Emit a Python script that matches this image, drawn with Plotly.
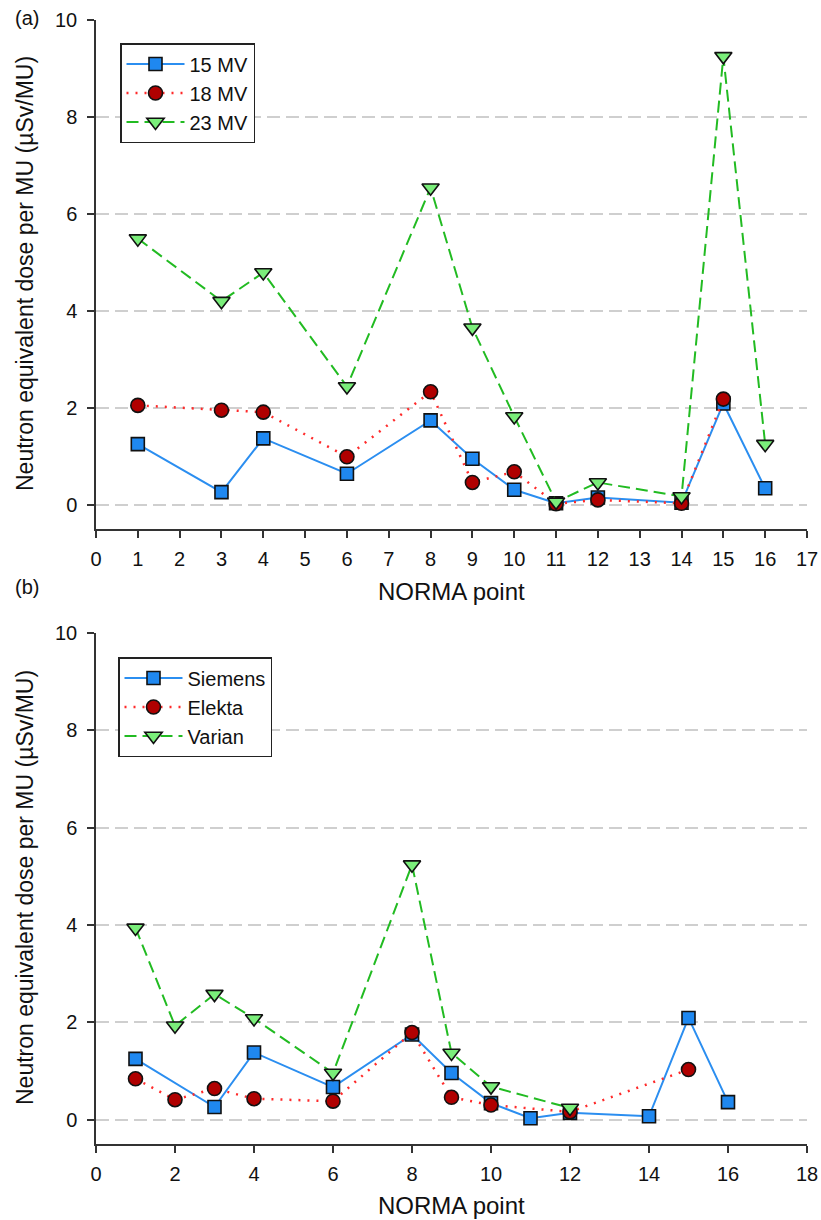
import plotly.graph_objects as go

# ---- data: panel (a), by beam energy ----
a_x_15 = [1, 3, 4, 6, 8, 9, 10, 11, 12, 14, 15, 16]
a_y_15 = [1.25, 0.26, 1.37, 0.64, 1.74, 0.95, 0.31, 0.03, 0.15, 0.04, 2.09, 0.34]

a_x_18 = [1, 3, 4, 6, 8, 9, 10, 11, 12, 14, 15]
a_y_18 = [2.05, 1.95, 1.91, 0.99, 2.33, 0.46, 0.68, 0.02, 0.10, 0.03, 2.18]

a_x_23 = [1, 3, 4, 6, 8, 9, 10, 11, 12, 14, 15, 16]
a_y_23 = [5.49, 4.20, 4.79, 2.44, 6.54, 3.65, 1.82, 0.06, 0.46, 0.17, 9.25, 1.25]

# ---- data: panel (b), by manufacturer ----
b_x_siemens = [1, 3, 4, 6, 8, 9, 10, 11, 12, 14, 15, 16]
b_y_siemens = [1.25, 0.26, 1.38, 0.67, 1.75, 0.96, 0.34, 0.03, 0.14, 0.07, 2.09, 0.36]

b_x_elekta = [1, 2, 3, 4, 6, 8, 9, 10, 12, 15]
b_y_elekta = [0.84, 0.41, 0.64, 0.43, 0.38, 1.79, 0.46, 0.30, 0.16, 1.03]

b_x_varian = [1, 2, 3, 4, 6, 8, 9, 10, 12]
b_y_varian = [3.94, 1.93, 2.58, 2.08, 0.96, 5.24, 1.37, 0.68, 0.24]

a_names = ["15 MV", "18 MV", "23 MV"]
b_names = ["Siemens", "Elekta", "Varian"]

y_ticks = [0, 2, 4, 6, 8, 10]
a_x_ticks = list(range(0, 18))
b_x_ticks = list(range(0, 19, 2))

W, H = 821, 1220
FONT = "Liberation Sans, Arial, sans-serif"

BLUE_LINE = "#2b8ef0"
BLUE_FILL = "#1f88f0"
RED_LINE = "#ff2a2a"
RED_FILL = "#b00000"
GREEN_LINE = "#22bb22"
GREEN_FILL = "#7aee7a"

styles = [
    dict(line=dict(color=BLUE_LINE, width=2, dash="solid"),
         marker=dict(symbol="square", size=13, color=BLUE_FILL,
                     line=dict(color="#111111", width=1.6))),
    dict(line=dict(color=RED_LINE, width=2.5, dash="2px,7px"),
         marker=dict(symbol="circle", size=14, color=RED_FILL,
                     line=dict(color="#111111", width=1.6))),
    dict(line=dict(color=GREEN_LINE, width=2, dash="12px,6px"),
         marker=dict(symbol="triangle-down", size=15, color=GREEN_FILL,
                     line=dict(color="#111111", width=1.6))),
]

fig = go.Figure()

for (xs, ys), name, st in zip(
        [(a_x_15, a_y_15), (a_x_18, a_y_18), (a_x_23, a_y_23)], a_names, styles):
    fig.add_trace(go.Scatter(x=xs, y=ys, name=name, mode="lines+markers",
                             xaxis="x", yaxis="y", legend="legend", **st))

for (xs, ys), name, st in zip(
        [(b_x_siemens, b_y_siemens), (b_x_elekta, b_y_elekta),
         (b_x_varian, b_y_varian)], b_names, styles):
    fig.add_trace(go.Scatter(x=xs, y=ys, name=name, mode="lines+markers",
                             xaxis="x2", yaxis="y2", legend="legend2", **st))


def px_x(p):
    return p / W


def px_y(p):
    return 1 - p / H


axis_common = dict(
    showline=True, linecolor="#333333", linewidth=1.5,
    ticks="outside", ticklen=7, tickwidth=1.5, tickcolor="#333333",
    tickfont=dict(family=FONT, size=20, color="#111111"),
    zeroline=False, fixedrange=True, automargin=False,
)

yaxis_common = dict(
    axis_common, range=[-0.5, 10], tickvals=y_ticks,
    showgrid=True, gridcolor="#cfcfcf", gridwidth=1.5, griddash="13px,6px",
    ticklabelstandoff=6,
)

xdom = [px_x(96), px_x(807)]

legend_common = dict(
    xanchor="left", yanchor="top",
    bordercolor="#222222", borderwidth=1.5, bgcolor="white",
    font=dict(family=FONT, size=20, color="#111111"),
    itemwidth=58,
)

fig.update_layout(
    width=W, height=H,
    margin=dict(l=0, r=0, t=0, b=0, autoexpand=False),
    paper_bgcolor="white", plot_bgcolor="white",
    font=dict(family=FONT, size=20, color="#111111"),
    xaxis=dict(axis_common, domain=xdom, range=[0, 17], tickvals=a_x_ticks,
               showgrid=False, anchor="y", ticklabelstandoff=4),
    yaxis=dict(yaxis_common, domain=[px_y(529), px_y(20)], anchor="x"),
    xaxis2=dict(axis_common, domain=xdom, range=[0, 18], tickvals=b_x_ticks,
                showgrid=False, anchor="y2", ticklabelstandoff=4),
    yaxis2=dict(yaxis_common, domain=[px_y(1144), px_y(633)], anchor="x2"),
    legend=dict(legend_common, x=px_x(120), y=px_y(43)),
    legend2=dict(legend_common, x=px_x(118), y=px_y(657)),
    showlegend=True,
)

ytitle = "Neutron equivalent dose per MU (\u00b5Sv/MU)"
annotations = [
    dict(text="(a)", x=px_x(13), y=px_y(18), xanchor="left", yanchor="middle"),
    dict(text="(b)", x=px_x(13), y=px_y(587), xanchor="left", yanchor="middle"),
    dict(text=ytitle, x=px_x(25), y=px_y(274), textangle=-90,
         xanchor="center", yanchor="middle", font=dict(size=23)),
    dict(text=ytitle, x=px_x(25), y=px_y(888), textangle=-90,
         xanchor="center", yanchor="middle", font=dict(size=23)),
    dict(text="NORMA point", x=px_x(451.5), y=px_y(591),
         xanchor="center", yanchor="middle", font=dict(size=24)),
    dict(text="NORMA point", x=px_x(451), y=px_y(1205),
         xanchor="center", yanchor="middle", font=dict(size=24)),
]
for an in annotations:
    an.setdefault("font", dict(size=20))
    an["font"] = dict(family=FONT, color="#111111", **an["font"])
    an.update(xref="paper", yref="paper", showarrow=False)
fig.update_layout(annotations=annotations)

fig.write_html("out.html")
